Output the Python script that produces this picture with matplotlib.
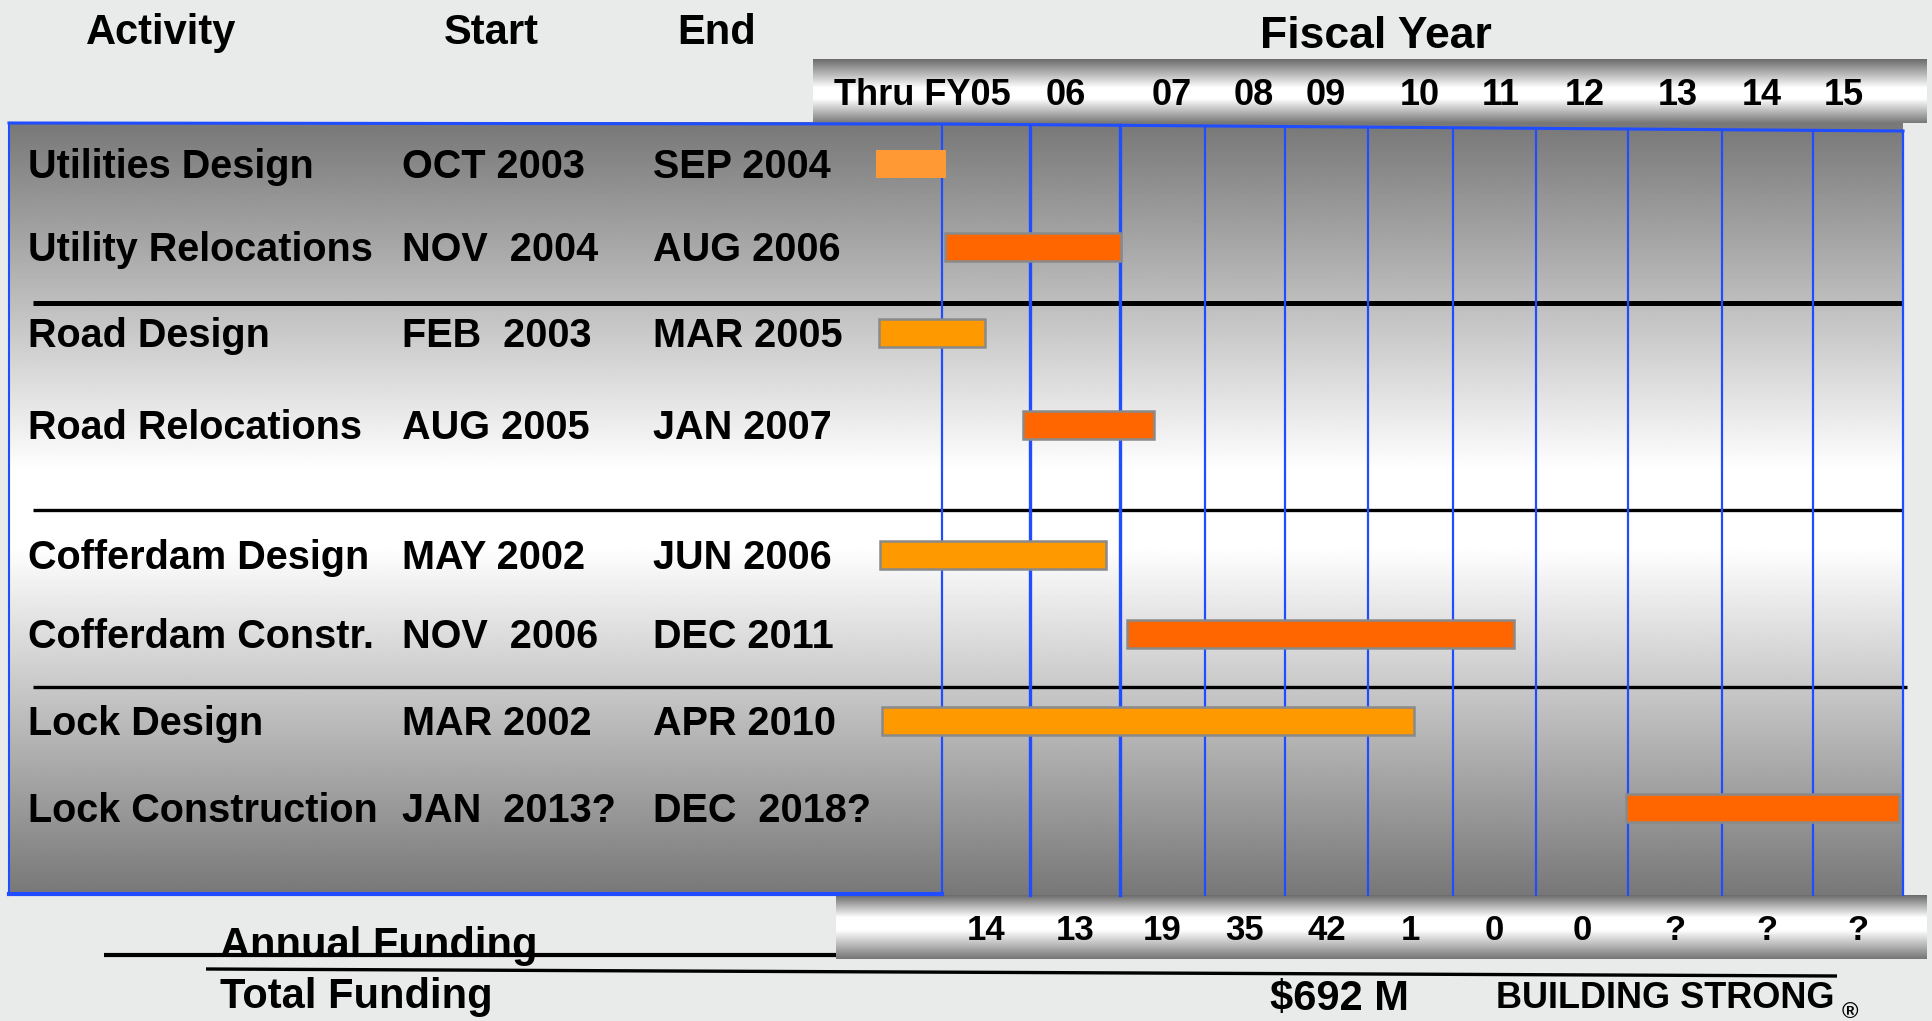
import numpy as np
import matplotlib
matplotlib.use("Agg")
import matplotlib.pyplot as plt

# ---------------- data ----------------
activities = ["Utilities Design", "Utility Relocations", "Road Design", "Road Relocations",
              "Cofferdam Design", "Cofferdam Constr.", "Lock Design", "Lock Construction"]
start_labels = ["OCT 2003", "NOV  2004", "FEB  2003", "AUG 2005",
                "MAY 2002", "NOV  2006", "MAR 2002", "JAN  2013?"]
end_labels = ["SEP 2004", "AUG 2006", "MAR 2005", "JAN 2007",
              "JUN 2006", "DEC 2011", "APR 2010", "DEC  2018?"]
# bar extents in fiscal-year units (the column of FY k is centred on k)
bar_start = [2003.75, 2004.53, 2003.78, 2005.42, 2003.80, 2006.58, 2003.82, 2012.48]
bar_end = [2004.55, 2006.51, 2004.99, 2006.90, 2006.34, 2011.23, 2010.04, 2015.46]
bar_kind = ["design_light", "construction", "design", "construction",
            "design", "construction", "design", "construction"]

fiscal_years = [2005, 2006, 2007, 2008, 2009, 2010, 2011, 2012, 2013, 2014, 2015]
fy_labels = ["Thru FY05", "06", "07", "08", "09", "10", "11", "12", "13", "14", "15"]
annual_funding = ["14", "13", "19", "35", "42", "1", "0", "0", "?", "?", "?"]
total_funding = "$692 M"

# ---------------- layout / style ----------------
W, H = 1933, 1021
BG = "#e8ebe9"
BLUE = "#1f4dff"
FONT = "Liberation Sans"
col_edge_px = [942, 1030, 1120, 1205, 1285, 1368, 1453, 1536, 1628, 1722, 1813, 1903]
row_pos = [164, 247, 333, 425, 555, 634, 721, 808]
fy_label_px = [922, 1066, 1172, 1254, 1326, 1420, 1501, 1585, 1678, 1762, 1844]
colors = {"design_light": "#ff9933", "design": "#ff9900", "construction": "#ff6600"}

fig = plt.figure(figsize=(W / 100, H / 100), dpi=100, facecolor=BG)
bg = fig.add_axes([0, 0, 1, 1])
bg.set_facecolor(BG)


def grad_img(ctrl_t, ctrl_v, n=400):
    t = np.linspace(0, 1, n)
    return np.interp(t, ctrl_t, ctrl_v).reshape(-1, 1)


# main panel gradient (gray - white - gray)
panel = grad_img([0, 0.45, 0.55, 1], [0.47, 1.0, 1.0, 0.47])
bg.imshow(panel, cmap="gray", vmin=0, vmax=1, aspect="auto",
          extent=(9, 1903, 895, 123), interpolation="bilinear", zorder=1)
# header band (metallic)
hband = grad_img([0, 0.45, 0.62, 1], [0.42, 1.0, 1.0, 0.47])
bg.imshow(hband, cmap="gray", vmin=0, vmax=1, aspect="auto",
          extent=(813, 1927, 123, 59), interpolation="bilinear", zorder=1)
# funding band (metallic)
fband = grad_img([0, 0.35, 0.55, 1], [0.42, 1.0, 1.0, 0.46])
bg.imshow(fband, cmap="gray", vmin=0, vmax=1, aspect="auto",
          extent=(836, 1927, 959, 895), interpolation="bilinear", zorder=1)

# panel borders
bg.plot([9, 9], [123, 895], color=BLUE, lw=1.5, zorder=3)
bg.plot([9, 942, 1903], [123, 124, 131], color=BLUE, lw=2.2, zorder=3)
bg.plot([9, 942], [894, 894], color=BLUE, lw=3, zorder=3)

# black separators
bg.plot([33, 1903], [303, 303], color="black", lw=3.6, zorder=4, solid_capstyle="butt")
bg.plot([33, 1903], [510, 510], color="black", lw=2.4, zorder=4, solid_capstyle="butt")
bg.plot([33, 1907], [687, 687], color="black", lw=2.4, zorder=4, solid_capstyle="butt")
# funding lines
bg.plot([104, 836], [955, 955], color="black", lw=3, zorder=4, solid_capstyle="butt")
bg.plot([206, 1837], [969, 976], color="black", lw=2.4, zorder=4, solid_capstyle="butt")

tk = dict(family=FONT, fontweight="bold", color="black", zorder=6)
# header texts
bg.text(86, 44, "Activity", fontsize=30, va="baseline", ha="left", **tk)
bg.text(444, 44, "Start", fontsize=30, va="baseline", ha="left", **tk)
bg.text(677, 44, "End", fontsize=30, va="baseline", ha="left", **tk)
bg.text(1260, 48, "Fiscal Year", fontsize=32, va="baseline", ha="left", **tk)
for lab, xp in zip(fy_labels, fy_label_px):
    bg.text(xp, 105, lab, fontsize=26, va="baseline", ha="center", **tk)

# activity rows
for name, s, e, y in zip(activities, start_labels, end_labels, row_pos):
    bg.text(28, y + 14, name, fontsize=28.5, va="baseline", ha="left", **tk)
    bg.text(402, y + 14, s, fontsize=28.5, va="baseline", ha="left", **tk)
    bg.text(653, y + 14, e, fontsize=28.5, va="baseline", ha="left", **tk)

# bottom texts
bg.text(220, 957, "Annual Funding", fontsize=30, va="baseline", ha="left", **tk)
bg.text(220, 1008, "Total Funding", fontsize=30, va="baseline", ha="left", **tk)
bg.text(1270, 1010, total_funding, fontsize=30, va="baseline", ha="left", **tk)
bg.text(1496, 1008, "BUILDING STRONG", fontsize=26, va="baseline", ha="left", **tk)
bg.text(1842, 1018, "\u00ae", fontsize=16, va="baseline", ha="left", **tk)

bg.set_xlim(0, W)
bg.set_ylim(H, 0)
bg.axis("off")

# ---------------- gantt axes (fiscal-year scale) ----------------
gx = fig.add_axes([0, 0, 1, 1], facecolor="none")
edge_u = np.array(fiscal_years + [fiscal_years[-1] + 1], float) - 0.5
edge_px = np.array(col_edge_px, float)
U = np.concatenate([[edge_u[0] - 20], edge_u, [edge_u[-1] + 20]])
P = np.concatenate([[edge_px[0] - 20 * 88], edge_px, [edge_px[-1] + 20 * 90]])


def fwd(x):
    return np.interp(x, U, P)


def inv(p):
    return np.interp(p, P, U)


gx.set_xscale("function", functions=(fwd, inv))
gx.set_xlim(float(inv(0)), float(inv(W)))
gx.set_ylim(H, 0)

# vertical year boundaries
tops = np.interp(edge_px, [942, 1903], [124, 131])
lws = [1.6, 2.4, 2.4, 1.6, 1.6, 1.6, 1.6, 1.6, 1.6, 1.6, 1.6, 1.6]
for xu, yt, lw in zip(edge_u, tops, lws):
    gx.plot([xu, xu], [yt, 895], color=BLUE, lw=lw, zorder=3)

# bars
for s, e, y, k in zip(bar_start, bar_end, row_pos, bar_kind):
    ec = "none" if k == "design_light" else "#8a8a8a"
    gx.barh(y, e - s, left=s, height=28, color=colors[k], edgecolor=ec,
            linewidth=1.8, zorder=5)

# annual funding values
for fy, v in zip(fiscal_years, annual_funding):
    gx.text(fy, 940, v, fontsize=25, va="baseline", ha="center", **tk)

gx.axis("off")

fig.savefig("out.png", dpi=100, facecolor=BG)
